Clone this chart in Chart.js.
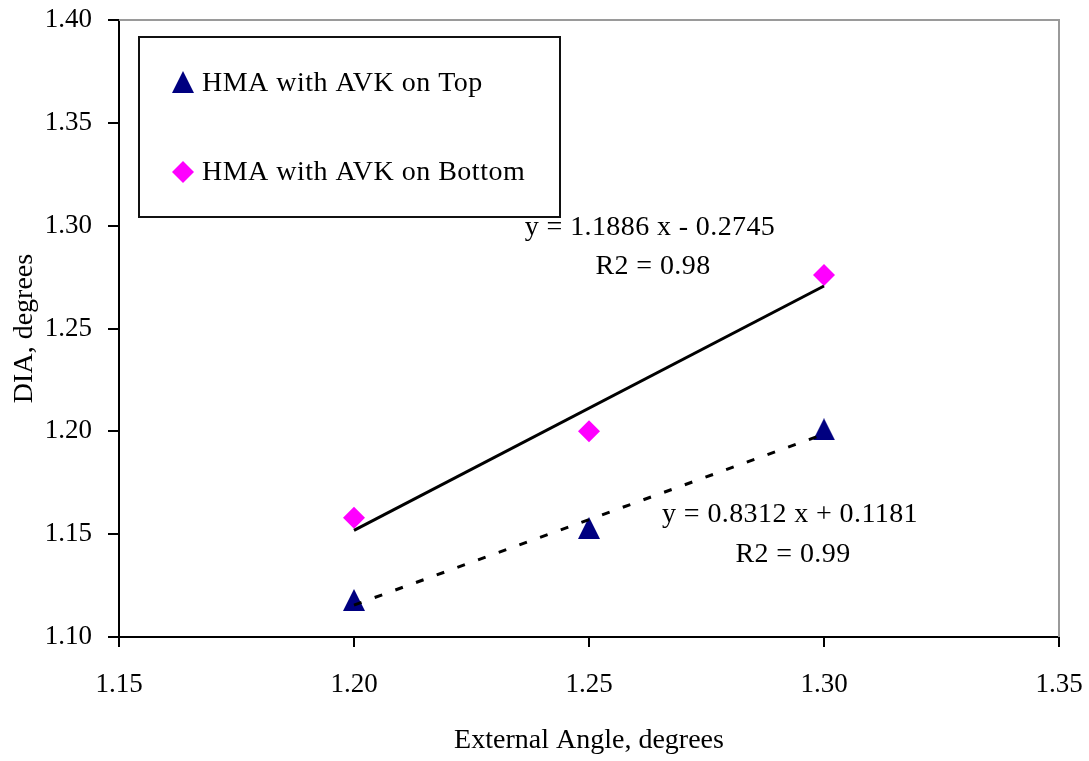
<!DOCTYPE html>
<html>
<head>
<meta charset="utf-8">
<script src="https://cdn.jsdelivr.net/npm/chart.js@4.4.1/dist/chart.umd.min.js"></script>
<style>
  html, body { margin: 0; padding: 0; background: #fff; }
  canvas { display: block; }
</style>
</head>
<body>
<canvas id="c" width="1089" height="761"></canvas>
<script>
// Measured DIA against external angle for the two specimen layouts
const angles = [1.20, 1.25, 1.30];
const diaTop = [1.118, 1.153, 1.201];
const diaBottom = [1.158, 1.200, 1.276];
const seriesNames = ['HMA with AVK on Top', 'HMA with AVK on Bottom'];

// Linear trend fits (index 0: Top, index 1: Bottom)
const trendSlope = [0.8312, 1.1886];
const trendIntercept = [0.1181, -0.2745];
const trendR2 = [0.99, 0.98];
const trendRange = [1.20, 1.30];

// Axis ticks and titles
const xTickValues = [1.15, 1.20, 1.25, 1.30, 1.35];
const yTickValues = [1.10, 1.15, 1.20, 1.25, 1.30, 1.35, 1.40];
const xTitle = 'External Angle, degrees';
const yTitle = 'DIA, degrees';

const SERIF = '"Liberation Serif", "Times New Roman", serif';
const NAVY = '#000080';
const MAGENTA = '#ff00ff';

// Upright triangle marker whose box is centred on the point
function triangleMarker(size, color) {
  const c = document.createElement('canvas');
  c.width = size; c.height = size;
  const g = c.getContext('2d');
  g.fillStyle = color;
  g.beginPath();
  g.moveTo(size / 2, 0);
  g.lineTo(size, size);
  g.lineTo(0, size);
  g.closePath();
  g.fill();
  return c;
}
const triMark = triangleMarker(22, NAVY);

function drawDiamond(ctx, x, y, r, color) {
  ctx.fillStyle = color;
  ctx.beginPath();
  ctx.moveTo(x, y - r);
  ctx.lineTo(x + r, y);
  ctx.lineTo(x, y + r);
  ctx.lineTo(x - r, y);
  ctx.closePath();
  ctx.fill();
}

const pairs = (xs, ys) => xs.map((x, i) => ({ x, y: ys[i] }));
const trendPoints = i => trendRange.map(x => ({ x, y: trendSlope[i] * x + trendIntercept[i] }));
const fmtEq = i => {
  const b = trendIntercept[i];
  return 'y = ' + trendSlope[i].toFixed(4) + ' x ' + (b < 0 ? '- ' : '+ ') + Math.abs(b).toFixed(4);
};

// Grey top/right edges of the plot area
const plotFrame = {
  id: 'plotFrame',
  beforeDatasetsDraw(chart) {
    const { ctx, chartArea: a } = chart;
    ctx.save();
    ctx.strokeStyle = '#9a9a9a';
    ctx.lineWidth = 2;
    ctx.beginPath();
    ctx.moveTo(a.left, a.top);
    ctx.lineTo(a.right, a.top);
    ctx.lineTo(a.right, a.bottom);
    ctx.stroke();
    ctx.restore();
  }
};

// Boxed legend inside the plot area
const boxedLegend = {
  id: 'boxedLegend',
  afterDatasetsDraw(chart) {
    const { ctx } = chart;
    ctx.save();
    ctx.strokeStyle = '#111';
    ctx.lineWidth = 2;
    ctx.fillStyle = '#fff';
    ctx.fillRect(139, 37, 421, 180);
    ctx.strokeRect(139, 37, 421, 180);
    ctx.drawImage(triMark, 183 - 11, 82 - 11);
    drawDiamond(ctx, 183, 172, 11, MAGENTA);
    ctx.fillStyle = '#000';
    ctx.font = '28px ' + SERIF;
    if ('letterSpacing' in ctx) ctx.letterSpacing = '0.5px';
    ctx.textAlign = 'left';
    ctx.textBaseline = 'middle';
    ctx.fillText(seriesNames[0], 202, 84);
    ctx.fillText(seriesNames[1], 202, 173);
    ctx.restore();
  }
};

// Trend equations and R2 labels
const trendLabels = {
  id: 'trendLabels',
  afterDatasetsDraw(chart) {
    const { ctx } = chart;
    ctx.save();
    ctx.fillStyle = '#000';
    ctx.font = '28px ' + SERIF;
    if ('letterSpacing' in ctx) ctx.letterSpacing = '0.4px';
    ctx.textAlign = 'center';
    ctx.textBaseline = 'middle';
    ctx.fillText(fmtEq(1), 650, 228);
    ctx.fillText('R2 = ' + trendR2[1].toFixed(2), 653, 267);
    ctx.fillText(fmtEq(0), 790, 515);
    ctx.fillText('R2 = ' + trendR2[0].toFixed(2), 793, 555);
    ctx.restore();
  }
};

const tickFmt = v => Number(v).toFixed(2);

new Chart(document.getElementById('c').getContext('2d'), {
  type: 'scatter',
  data: {
    datasets: [
      {
        label: seriesNames[0] + ' trend',
        type: 'line',
        data: trendPoints(0),
        borderColor: '#000',
        borderWidth: 3,
        borderDash: [8, 14],
        pointRadius: 0,
        fill: false,
        order: 0
      },
      {
        label: seriesNames[1] + ' trend',
        type: 'line',
        data: trendPoints(1),
        borderColor: '#000',
        borderWidth: 3,
        pointRadius: 0,
        fill: false,
        order: 0
      },
      {
        label: seriesNames[0],
        data: pairs(angles, diaTop),
        pointStyle: triMark,
        pointRadius: 11,
        backgroundColor: NAVY,
        borderColor: NAVY,
        order: 1
      },
      {
        label: seriesNames[1],
        data: pairs(angles, diaBottom),
        pointStyle: 'rectRot',
        pointRadius: 11,
        borderWidth: 0,
        backgroundColor: MAGENTA,
        borderColor: MAGENTA,
        order: 1
      }
    ]
  },
  options: {
    responsive: false,
    animation: false,
    devicePixelRatio: 1,
    layout: { padding: { top: 20, right: 30, left: 0, bottom: 0 } },
    plugins: { legend: { display: false }, tooltip: { enabled: false } },
    scales: {
      x: {
        type: 'linear',
        min: 1.15,
        max: 1.35,
        afterBuildTicks: s => { s.ticks = xTickValues.map(v => ({ value: v })); },
        afterFit: s => { s.height = 124; s.paddingLeft = 0; s.paddingRight = 0; },
        ticks: {
          callback: tickFmt,
          font: { family: SERIF, size: 27 },
          color: '#000',
          padding: 22,
          maxRotation: 0,
          autoSkip: false
        },
        grid: { drawOnChartArea: false, drawTicks: true, tickLength: 10, color: '#000', lineWidth: 2 },
        border: { color: '#000', width: 2 },
        title: {
          display: true,
          text: xTitle,
          color: '#000',
          font: { family: SERIF, size: 28 },
          padding: { top: 0, bottom: 4 }
        }
      },
      y: {
        type: 'linear',
        min: 1.10,
        max: 1.40,
        afterBuildTicks: s => { s.ticks = yTickValues.map(v => ({ value: v })); },
        afterFit: s => { s.width = 119; s.paddingTop = 0; s.paddingBottom = 0; },
        ticks: {
          callback: tickFmt,
          font: { family: SERIF, size: 27 },
          color: '#000',
          padding: 16,
          autoSkip: false
        },
        grid: { drawOnChartArea: false, drawTicks: true, tickLength: 11, color: '#000', lineWidth: 2 },
        border: { color: '#000', width: 2 },
        title: {
          display: true,
          text: yTitle,
          color: '#000',
          font: { family: SERIF, size: 28 },
          padding: { top: 8, bottom: 0 }
        }
      }
    }
  },
  plugins: [plotFrame, boxedLegend, trendLabels]
});
</script>
</body>
</html>
